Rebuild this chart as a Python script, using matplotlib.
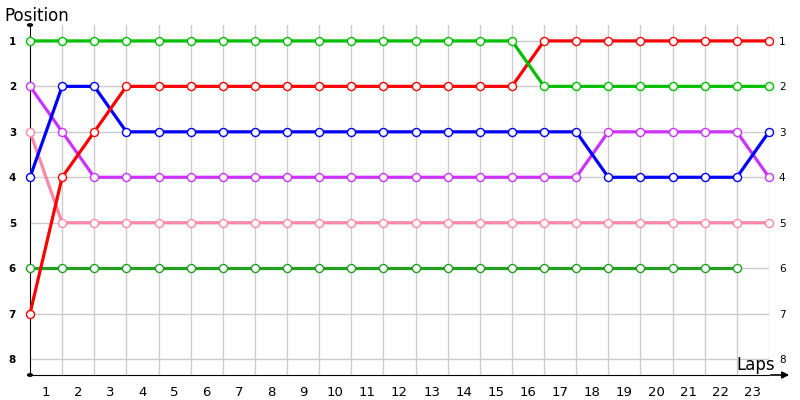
import matplotlib.pyplot as plt
from matplotlib.transforms import ScaledTranslation

# lap 0 = grid position
laps = list(range(0, 24))
lap_labels = [str(i) for i in range(1, 24)]
positions = list(range(1, 9))

green = [1] * 16 + [2] * 8
red = [7, 4, 3] + [2] * 13 + [1] * 8
blue = [4, 2, 2] + [3] * 15 + [4] * 5 + [3]
purple = [2, 3] + [4] * 16 + [3] * 5 + [4]
pink = [3] + [5] * 23
dkgreen = [6] * 23

series = [
    (dkgreen, '#22a022'),
    (pink, '#ff88a8'),
    (purple, '#cc33ff'),
    (blue, '#0000ff'),
    (red, '#ff0000'),
    (green, '#00c000'),
]

fig = plt.figure(figsize=(8, 4), dpi=100)
ax = fig.add_axes([30 / 800, 25 / 400, 739 / 800, 350 / 400])

for vals, col in series:
    xs = laps[:len(vals)]
    ax.plot(xs, vals, color=col, linewidth=2.3, zorder=3, clip_on=False,
            marker='o', markersize=5.8, markerfacecolor='white',
            markeredgecolor=col, markeredgewidth=1.0)

ax.set_xlim(0, 23)
ax.set_ylim(8.35, 0.65)

ax.set_xticks(range(1, 24))
ax.set_xticks([i - 0.5 for i in range(1, 24)], minor=True)
ax.set_xticklabels([])
ax.set_xticklabels(lap_labels, minor=True)
ax.tick_params(axis='x', which='both', length=0, pad=8, labelsize=9.5)
ax.set_yticks(positions)
ax.set_yticklabels([str(p) for p in positions])
ax.tick_params(axis='y', length=0, labelsize=7.5, labelright=True)
for t in ax.yaxis.get_major_ticks():
    t.label1.set_fontweight('bold')
    t.label2.set_fontsize(7.5)
    t.set_pad(10)
    # right-hand labels sit closer to the last lap
    t.label2.set_transform(t.label2.get_transform() +
                           ScaledTranslation(-4 / 100, 0, fig.dpi_scale_trans))

ax.grid(True, which='major', color='#cccccc', linewidth=1.0, zorder=0)

for s in ['top', 'right']:
    ax.spines[s].set_visible(False)
ax.spines['left'].set_color('black')
ax.spines['bottom'].set_color('black')

# extended x-axis arrow and y-axis end dots
ax.annotate('', xy=(792 / 800, 25 / 400), xycoords='figure fraction',
            xytext=(768 / 800, 25 / 400), textcoords='figure fraction',
            arrowprops=dict(arrowstyle='-|>', color='black', lw=1.2,
                            mutation_scale=10))
fig.patches.append(plt.Circle((30 / 800, 375 / 400), 0.003, transform=fig.transFigure,
                              color='black'))
fig.patches.append(plt.Circle((30 / 800, 25 / 400), 0.003, transform=fig.transFigure,
                              color='black'))

fig.text(4 / 800, 1 - 16 / 400, 'Position', fontsize=12, va='center', ha='left')
fig.text(775 / 800, 1 - 365 / 400, 'Laps', fontsize=12, va='center', ha='right')

fig.savefig('out.png', dpi=100)
